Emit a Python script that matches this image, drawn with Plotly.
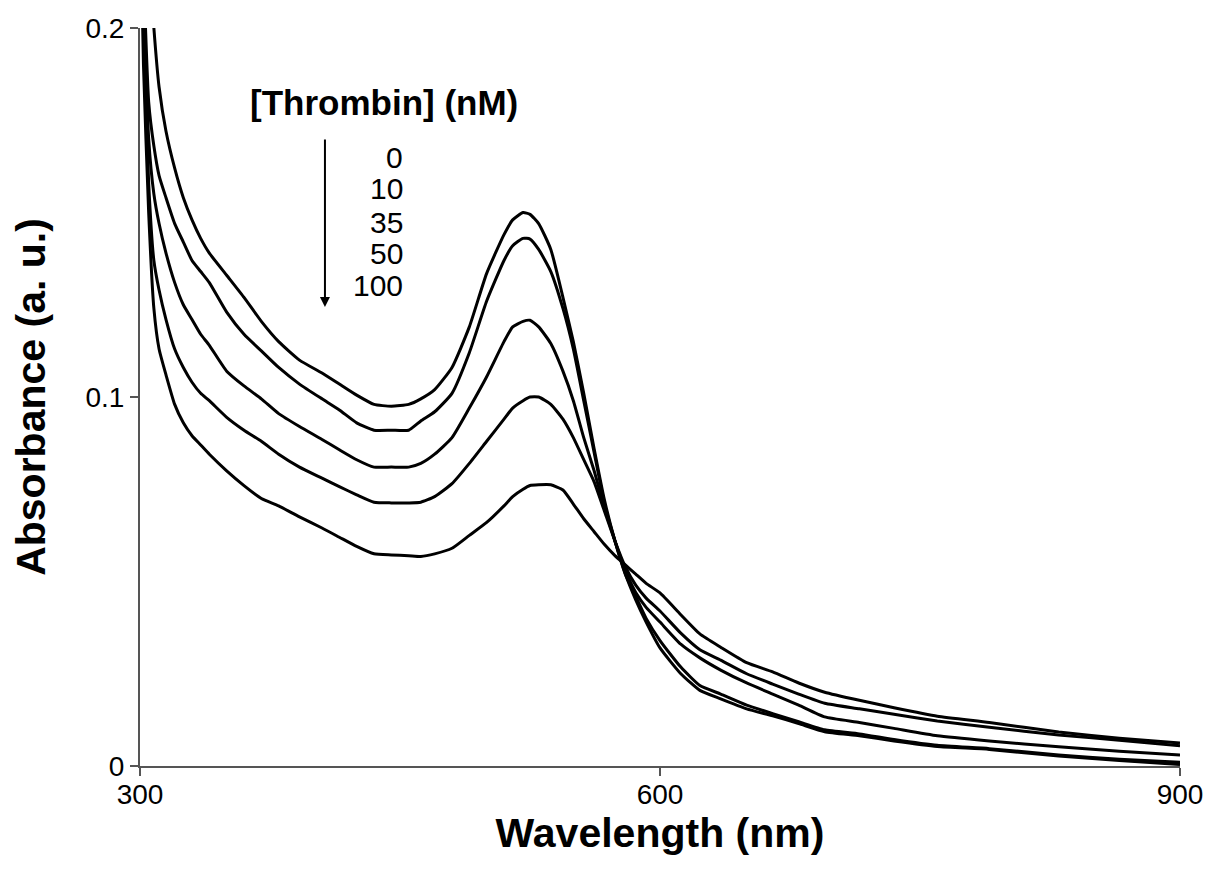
import plotly.graph_objects as go

# Wavelength grid (nm)
wavelength = [300, 302, 305, 308, 311, 315, 320, 325, 330, 335, 340, 350, 360, 370, 380,
              392, 405, 415, 425, 435, 445, 455, 462, 470, 480, 490, 500, 510, 515, 521,
              525, 530, 537, 544, 550, 556, 562, 568, 574, 580, 586, 592, 600, 612, 623,
              635, 650, 665, 680, 695, 715, 735, 760, 790, 830, 865, 900]

# Absorbance for each thrombin concentration
abs_0nM = [0.26, 0.245, 0.222, 0.200, 0.184, 0.172, 0.162, 0.154, 0.148, 0.143, 0.139, 0.133, 0.127, 0.1205, 0.115,
           0.110, 0.1065, 0.1035, 0.1005, 0.098, 0.0975, 0.098, 0.0995, 0.102, 0.108, 0.119, 0.1335, 0.144, 0.148, 0.150,
           0.1495, 0.147, 0.140, 0.127, 0.115, 0.101, 0.086, 0.072, 0.061, 0.052, 0.045, 0.039, 0.032, 0.025, 0.0205,
           0.0182, 0.0155, 0.0136, 0.0115, 0.0093, 0.0082, 0.0068, 0.0053, 0.0045, 0.0027, 0.0015, 0.0004]
abs_10nM = [0.24, 0.215, 0.18, 0.168, 0.160, 0.154, 0.147, 0.142, 0.137, 0.134, 0.131, 0.123, 0.117, 0.1125, 0.108,
            0.1035, 0.0995, 0.0965, 0.093, 0.091, 0.091, 0.091, 0.0935, 0.096, 0.101, 0.112, 0.126, 0.137, 0.141, 0.143,
            0.1428, 0.140, 0.134, 0.124, 0.113, 0.099, 0.085, 0.071, 0.061, 0.052, 0.046, 0.040, 0.034, 0.0268, 0.0218,
            0.0195, 0.0165, 0.0142, 0.012, 0.0098, 0.0087, 0.0072, 0.0056, 0.0047, 0.003, 0.0018, 0.001]
abs_35nM = [0.245, 0.21, 0.17, 0.155, 0.147, 0.139, 0.131, 0.125, 0.121, 0.117, 0.114, 0.107, 0.103, 0.0995, 0.0955,
            0.092, 0.0885, 0.0857, 0.083, 0.081, 0.081, 0.081, 0.082, 0.0845, 0.089, 0.097, 0.1055, 0.115, 0.119, 0.1205,
            0.1208, 0.119, 0.1145, 0.107, 0.099, 0.089, 0.080, 0.070, 0.061, 0.053, 0.047, 0.043, 0.039, 0.033, 0.0293,
            0.026, 0.0225, 0.0195, 0.0165, 0.0133, 0.0118, 0.0102, 0.0082, 0.0068, 0.0052, 0.004, 0.003]
abs_50nM = [0.24, 0.2, 0.158, 0.137, 0.129, 0.121, 0.113, 0.108, 0.104, 0.101, 0.099, 0.0945, 0.091, 0.088, 0.0845,
            0.081, 0.078, 0.0757, 0.0735, 0.0715, 0.0713, 0.0713, 0.0715, 0.073, 0.0765, 0.082, 0.088, 0.094, 0.097, 0.099,
            0.100, 0.100, 0.098, 0.094, 0.089, 0.083, 0.077, 0.069, 0.061, 0.054, 0.049, 0.0455, 0.042, 0.036, 0.0315,
            0.0287, 0.025, 0.0222, 0.0195, 0.017, 0.0155, 0.014, 0.0122, 0.0105, 0.0084, 0.007, 0.0055]
abs_100nM = [0.235, 0.19, 0.150, 0.124, 0.113, 0.106, 0.098, 0.093, 0.0895, 0.087, 0.0845, 0.080, 0.076, 0.0725, 0.0705,
             0.0675, 0.0645, 0.062, 0.0595, 0.0575, 0.0572, 0.057, 0.0568, 0.0575, 0.059, 0.0625, 0.066, 0.0705, 0.073, 0.075,
             0.076, 0.0762, 0.0762, 0.0748, 0.071, 0.067, 0.0635, 0.060, 0.057, 0.0545, 0.052, 0.0495, 0.0469, 0.041, 0.0358,
             0.0322, 0.028, 0.0255, 0.0225, 0.020, 0.0178, 0.0158, 0.0135, 0.0118, 0.0092, 0.0075, 0.0062]

series_names = ["0", "10", "35", "50", "100"]
series_values = [abs_0nM, abs_10nM, abs_35nM, abs_50nM, abs_100nM]

x_ticks = [300, 600, 900]
x_tick_labels = ["300", "600", "900"]
y_ticks = [0, 0.1, 0.2]
y_tick_labels = ["0", "0.1", "0.2"]

FONT = "Liberation Sans, Arial, sans-serif"

fig = go.Figure()
for name, vals in zip(series_names, series_values):
    fig.add_trace(go.Scatter(x=wavelength, y=vals, mode="lines", name=name,
                             line=dict(color="black", width=3, shape="spline", smoothing=0.5),
                             showlegend=False))

fig.update_layout(
    width=1205, height=875,
    margin=dict(l=140, r=25, t=28, b=109),
    paper_bgcolor="white", plot_bgcolor="white",
    font=dict(family=FONT, color="black"),
)

fig.update_xaxes(range=[300, 900], tickvals=x_ticks, ticktext=x_tick_labels, automargin=False,
                 showgrid=False, zeroline=False, showline=True, linecolor="#555", linewidth=2,
                 ticks="outside", ticklen=8, tickcolor="#555", tickwidth=1.5,
                 ticklabelstandoff=-6,
                 tickfont=dict(size=28, family=FONT),
                 title=dict(text="<b>Wavelength (nm)</b>", font=dict(size=41, family=FONT), standoff=3))
fig.update_yaxes(range=[0, 0.2], tickvals=y_ticks, ticktext=y_tick_labels, automargin=False,
                 showgrid=False, zeroline=False, showline=True, linecolor="#555", linewidth=2,
                 ticks="outside", ticklen=8, tickcolor="#555", tickwidth=1.5,
                 tickfont=dict(size=28, family=FONT),
                 title=dict(text="<b>Absorbance (a. u.)</b>", font=dict(size=41, family=FONT), standoff=27))

# Legend-like annotation
fig.add_annotation(x=440.8, y=0.1797, xref="x", yref="y", text="<b>[Thrombin] (nM)</b>",
                   showarrow=False, font=dict(size=35, family=FONT))
label_y = [0.1648, 0.1566, 0.1474, 0.1388, 0.1301]
for name, yv in zip(series_names, label_y):
    fig.add_annotation(x=452.9, y=yv, xref="x", yref="y", text=name, showarrow=False,
                       xanchor="right", font=dict(size=30, family=FONT))
fig.add_annotation(x=406.7, y=0.1244, xref="x", yref="y", ax=406.7, ay=0.1702,
                   axref="x", ayref="y", text="", showarrow=True,
                   arrowhead=2, arrowsize=1, arrowwidth=2, arrowcolor="black")

# remove the default page margin so the figure sits at the window origin
fig.write_html("out.html", config={"displayModeBar": False},
               post_script="document.body.style.margin='0';document.body.style.overflow='hidden';")
